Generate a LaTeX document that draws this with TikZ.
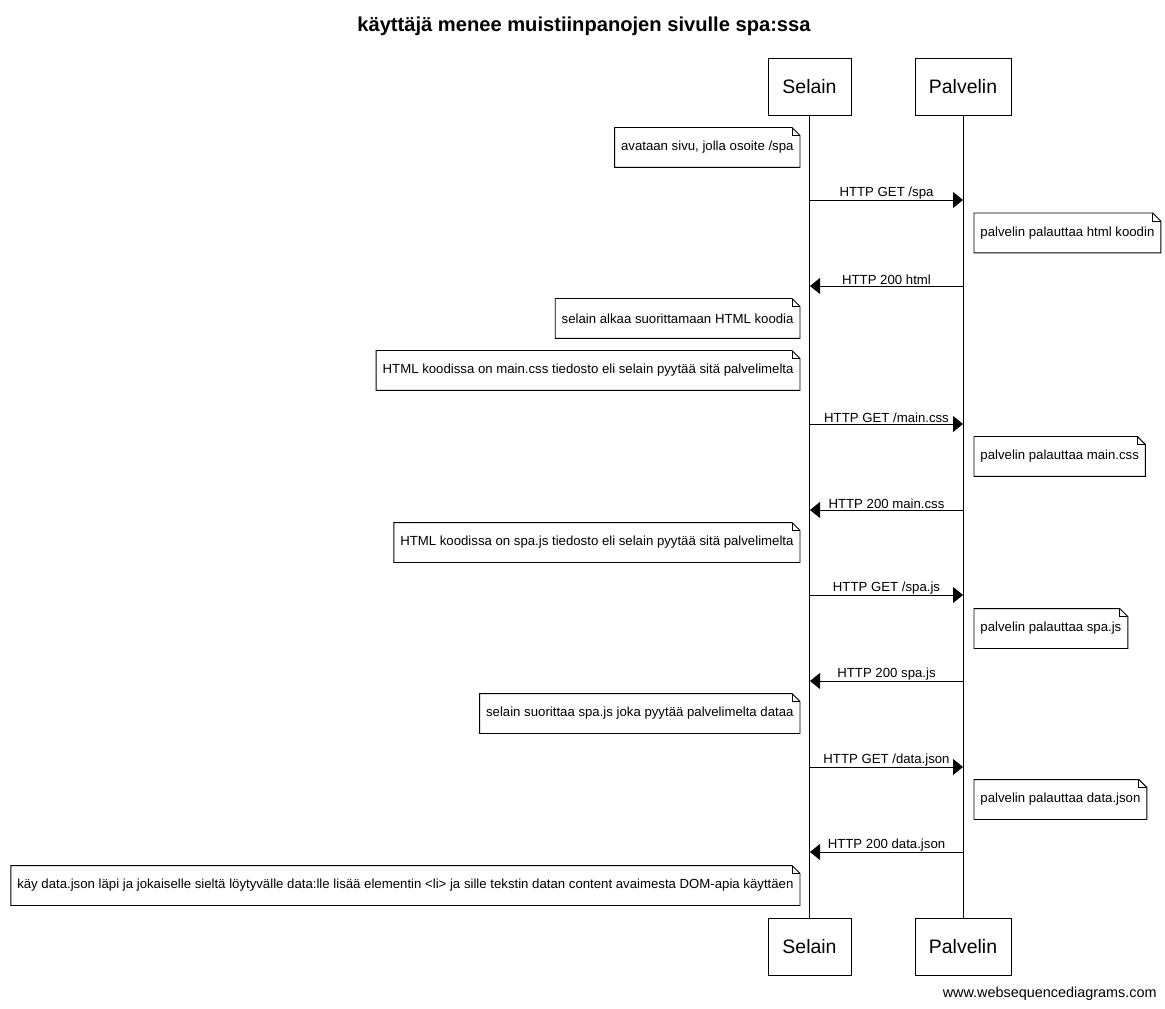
\documentclass[tikz,border=0pt]{standalone}
\usepackage{fontspec}
\setmainfont{Liberation Sans}
\usetikzlibrary{arrows.meta, positioning}

\begin{document}
\begin{tikzpicture}[
    x=0.75pt, y=-0.75pt, line width=0.7pt,
    actor/.style={rectangle, draw=black, fill=white, minimum height=42.75pt, font=\fontsize{14.6}{17}\selectfont},
    notebox/.style={rectangle, inner xsep=4.5pt, minimum height=29.25pt, font=\fontsize{9.9}{12}\selectfont},
    msg/.style={-{Triangle[length=7.5pt, width=12pt]}, black},
    msglabel/.style={font=\fontsize{9.9}{12}\selectfont, inner sep=0.5pt}
]
\useasboundingbox (0,0) rectangle (1165,1009);

% === Title ===
\node[font=\fontsize{15.1}{18}\selectfont\bfseries] (title) at (584,26) {käyttäjä menee muistiinpanojen sivulle spa:ssa};

% === Participants ===
\node[actor, minimum width=62.25pt] (selTop) at (809.5,86.5) {Selain};
\node[actor, minimum width=72pt] (palTop) at (963,86.5) {Palvelin};
\node[actor, minimum width=62.25pt] (selBot) at (809.5,946.5) {Selain};
\node[actor, minimum width=72pt] (palBot) at (963,946.5) {Palvelin};

% Lifelines
\draw (selTop) -- (selBot);
\draw (palTop) -- (palBot);

% Message points on the lifelines
\foreach \y [count=\i] in {200,286,424,510,595,681,767,852} {
    \coordinate (s\i) at (810,\y);
    \coordinate (p\i) at (963,\y);
}

% === Notes ===
\node[notebox, anchor=east] (n1) at (800,147.5) {avataan sivu, jolla osoite /spa};
\node[notebox, anchor=west] (n2) at (974,233) {palvelin palauttaa html koodin};
\node[notebox, anchor=east] (n3) at (800,318.5) {selain alkaa suorittamaan HTML koodia};
\node[notebox, anchor=east] (n4) at (800,370.5) {HTML koodissa on main.css tiedosto eli selain pyytää sitä palvelimelta};
\node[notebox, anchor=west] (n5) at (974,456.5) {palvelin palauttaa main.css};
\node[notebox, anchor=east] (n6) at (800,542.5) {HTML koodissa on spa.js tiedosto eli selain pyytää sitä palvelimelta};
\node[notebox, anchor=west] (n7) at (974,628.5) {palvelin palauttaa spa.js};
\node[notebox, anchor=east] (n8) at (800,713.5) {selain suorittaa spa.js joka pyytää palvelimelta dataa};
\node[notebox, anchor=west] (n9) at (974,799.5) {palvelin palauttaa data.json};
\node[notebox, anchor=east] (n10) at (800,885.5) {käy data.json läpi ja jokaiselle sieltä löytyvälle data:lle lisää elementin <li> ja sille tekstin datan content avaimesta DOM-apia käyttäen};

% note outlines with folded corner
\foreach \n in {n1,n2,n3,n4,n5,n6,n7,n8,n9,n10} {
    \draw (\n.south west) -- (\n.north west) -- ([xshift=-6pt]\n.north east) -- ([yshift=-6pt]\n.north east) -- (\n.south east) -- cycle;
    \draw ([xshift=-6pt]\n.north east) |- ([yshift=-6pt]\n.north east);
}

% === Messages ===
\draw[msg] (s1) -- node[above, msglabel] {HTTP GET /spa} (p1);
\draw[msg] (p2) -- node[above, msglabel] {HTTP 200 html} (s2);
\draw[msg] (s3) -- node[above, msglabel] {HTTP GET /main.css} (p3);
\draw[msg] (p4) -- node[above, msglabel] {HTTP 200 main.css} (s4);
\draw[msg] (s5) -- node[above, msglabel] {HTTP GET /spa.js} (p5);
\draw[msg] (p6) -- node[above, msglabel] {HTTP 200 spa.js} (s6);
\draw[msg] (s7) -- node[above, msglabel] {HTTP GET /data.json} (p7);
\draw[msg] (p8) -- node[above, msglabel] {HTTP 200 data.json} (s8);

% === Footer ===
\node[anchor=east, font=\fontsize{10.8}{12}\selectfont, inner sep=0pt] (footer) at (1157,994) {www.websequencediagrams.com};

\end{tikzpicture}
\end{document}
